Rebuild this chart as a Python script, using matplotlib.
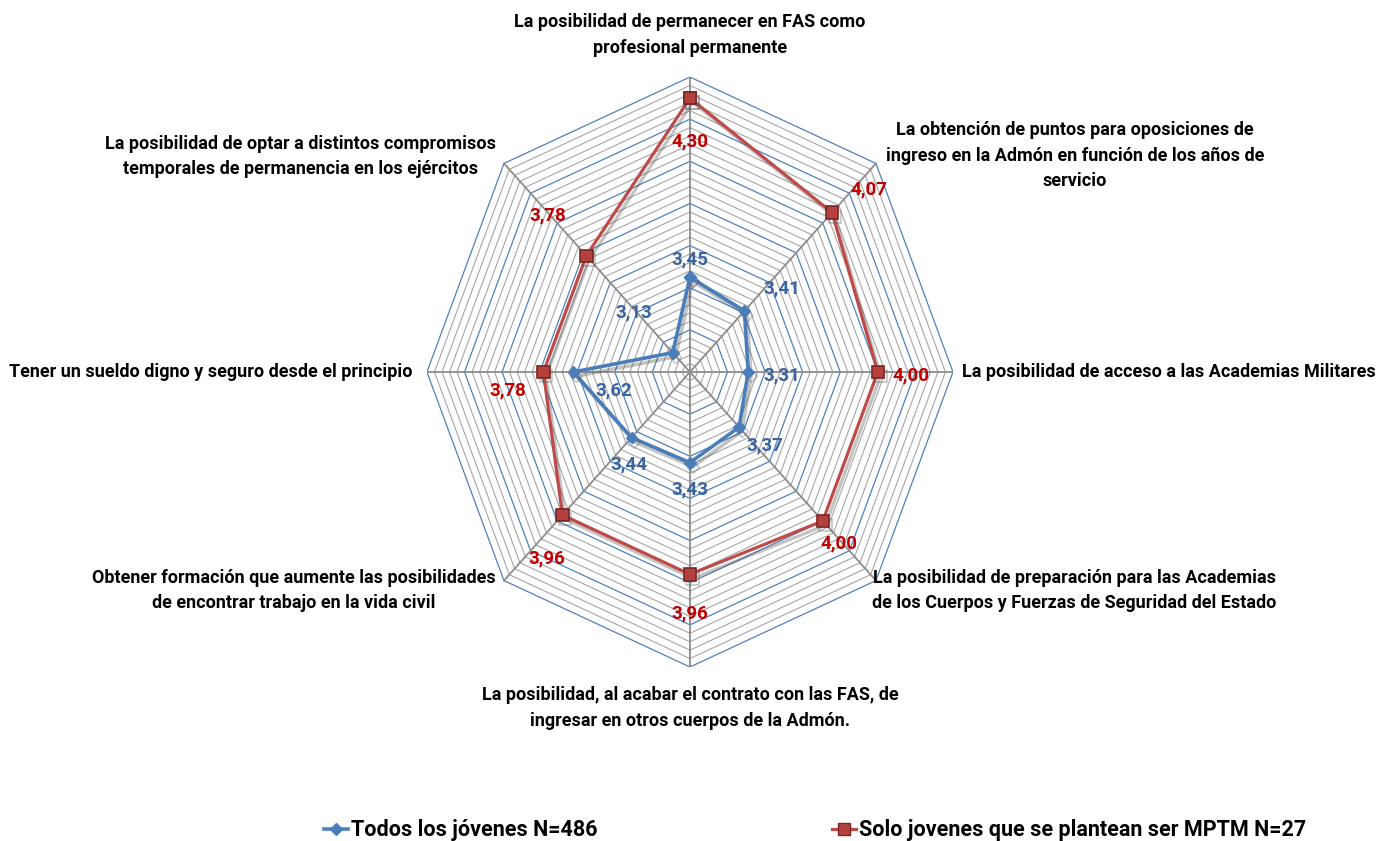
import numpy as np
import matplotlib
matplotlib.use("Agg")
import matplotlib.pyplot as plt
import matplotlib.patheffects as pe
from matplotlib.lines import Line2D

plt.rcParams['font.family'] = ['Liberation Sans Narrow', 'Roboto', 'DejaVu Sans']

# data
categories = [
    "La posibilidad de permanecer en FAS como\nprofesional permanente",
    "La obtención de puntos para oposiciones de\ningreso en la Admón en función de los años de\nservicio",
    "La posibilidad de acceso a las Academias Militares",
    "La posibilidad de preparación para las Academias\nde los Cuerpos y Fuerzas de Seguridad del Estado",
    "La posibilidad, al acabar el contrato con las FAS, de\ningresar en otros cuerpos de la Admón.",
    "Obtener formación que aumente las posibilidades\nde encontrar trabajo en la vida civil",
    "Tener un sueldo digno y seguro desde el principio",
    "La posibilidad de optar a distintos compromisos\ntemporales de permanencia en los ejércitos",
]
todos = [3.45, 3.41, 3.31, 3.37, 3.43, 3.44, 3.62, 3.13]
mptm = [4.30, 4.07, 4.00, 4.00, 3.96, 3.96, 3.78, 3.78]
series_names = ["Todos los jóvenes N=486", "Solo jovenes que se plantean ser MPTM N=27"]

axis_min, axis_max = 3.0, 4.4
major_step, minor_step = 0.2, 0.04

# label placement (pixel offsets)
todos_off = [(0, 18), (37, 22), (34, -3), (26, -18), (0, -27), (-3, -27), (40, -18), (-39, 40)]
mptm_off = [(0, -43), (37, 23), (33, -3), (16, -22), (0, -39), (-16, -43), (-36, -18), (-39, 40)]
cat_place = [((0, 42), 'center'), ((10, 8), 'left'), ((9, 0), 'left'), ((-4, -10), 'left'),
             ((0, -41), 'center'), ((-8, -10), 'right'), ((-14, 0), 'right'), ((-8, 7), 'right')]

BLUE = '#4A7EBB'
BLUE_TXT = '#3B64A0'
RED = '#BE4B48'
RED_TXT = '#C00000'
GRID_BLUE = '#4F81BD'
GRID_GRAY = '#A6A6A6'

n = len(categories)
angles = np.pi / 2 - np.arange(n) * 2 * np.pi / n


def to_xy(vals):
    r = np.asarray(vals) - axis_min
    return r * np.cos(angles), r * np.sin(angles)


fig = plt.figure(figsize=(13.93, 8.41), dpi=100)
ax = fig.add_axes([0.3065, 0.2069, 0.3776, 0.7015])
ax.set_xlim(-(axis_max - axis_min), axis_max - axis_min)
ax.set_ylim(-(axis_max - axis_min), axis_max - axis_min)
ax.set_aspect('auto')
ax.axis('off')

# grid rings
levels = np.arange(axis_min + minor_step, axis_max + 1e-9, minor_step)
for lv in levels:
    xs, ys = to_xy([lv] * n)
    xs = np.append(xs, xs[0])
    ys = np.append(ys, ys[0])
    is_major = abs(round((lv - axis_min) / major_step) * major_step - (lv - axis_min)) < 1e-6
    if is_major:
        ax.plot(xs, ys, color=GRID_BLUE, lw=0.9, zorder=2)
    else:
        ax.plot(xs, ys, color=GRID_GRAY, lw=0.8, zorder=1)

# spokes
ox, oy = to_xy([axis_max] * n)
for i in range(n):
    ax.plot([0, ox[i]], [0, oy[i]], color='#8C8C8C', lw=1.3, zorder=3)

shadow = [pe.SimpleLineShadow(offset=(2, -3), shadow_color='#555555', alpha=0.35), pe.Normal()]

bx, by = to_xy(todos)
ax.plot(np.append(bx, bx[0]), np.append(by, by[0]), color=BLUE, lw=2.6, marker='D',
        markersize=6, markerfacecolor=BLUE, markeredgecolor=BLUE, zorder=5, path_effects=shadow)
rx, ry = to_xy(mptm)
ax.plot(np.append(rx, rx[0]), np.append(ry, ry[0]), color=RED, lw=2.3, marker='s',
        markersize=9, markerfacecolor='#B5413E', markeredgecolor='#7A2624', markeredgewidth=1.2,
        zorder=6, path_effects=shadow)

for i in range(n):
    ax.annotate(f"{todos[i]:.2f}".replace('.', ','), (bx[i], by[i]), xytext=todos_off[i],
                textcoords='offset pixels', ha='center', va='center', fontsize=13.5,
                fontweight='bold', color=BLUE_TXT, zorder=7)
    ax.annotate(f"{mptm[i]:.2f}".replace('.', ','), (rx[i], ry[i]), xytext=mptm_off[i],
                textcoords='offset pixels', ha='center', va='center', fontsize=13.5,
                fontweight='bold', color=RED_TXT, zorder=7)

for i in range(n):
    off, ha = cat_place[i]
    ax.annotate(categories[i], (ox[i], oy[i]), xytext=off, textcoords='offset pixels',
                ha=ha, va='center', multialignment='center', fontsize=13, fontweight='bold',
                color='black', linespacing=1.55, annotation_clip=False)

handles = [
    Line2D([], [], color=BLUE, lw=2.6, marker='D', markersize=6),
    Line2D([], [], color=RED, lw=2.3, marker='s', markersize=9,
           markerfacecolor='#B5413E', markeredgecolor='#7A2624'),
]
fig.legend(handles, series_names, loc='center', bbox_to_anchor=(0.585, 0.013), ncol=2,
           frameon=False, handlelength=1.1, handletextpad=0.15, columnspacing=10.9,
           prop={'weight': 'bold', 'size': 15.5})

fig.savefig('out.png', dpi=100)
